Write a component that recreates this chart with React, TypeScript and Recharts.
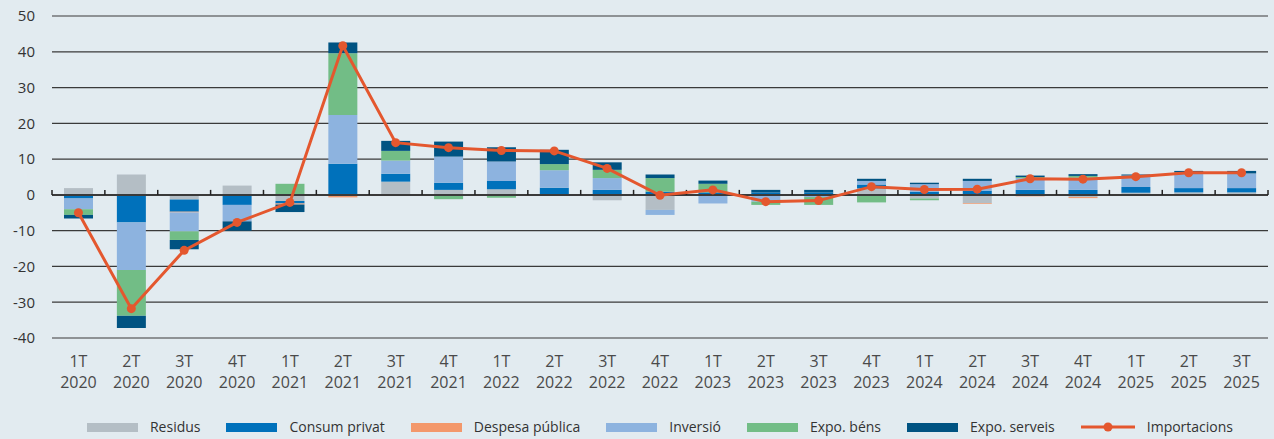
import React from 'react';
import { ComposedChart, Bar, Line, XAxis, YAxis, CartesianGrid, ReferenceLine, Legend } from 'recharts';

const categories = [
  '1T 2020', '2T 2020', '3T 2020', '4T 2020',
  '1T 2021', '2T 2021', '3T 2021', '4T 2021',
  '1T 2022', '2T 2022', '3T 2022', '4T 2022',
  '1T 2023', '2T 2023', '3T 2023', '4T 2023',
  '1T 2024', '2T 2024', '3T 2024', '4T 2024',
  '1T 2025', '2T 2025', '3T 2025',
];

const residus = [1.9, 5.7, -1.3, 2.6, -1.7, 0, 3.7, 1.4, 1.6, 0, -1.5, -4.2, 0, 0, 0, 1.8, -1.0, -2.3, 0, -0.6, 0.6, 0.7, 0.7];
const consumPrivat = [-1.0, -7.7, -3.4, -2.8, -0.7, 8.7, 2.2, 2.0, 2.3, 2.0, 1.4, 0.9, 0.7, 0.7, 0.7, 1.1, 0.9, 1.2, 1.4, 1.4, 1.6, 1.2, 1.2];
const despesaPublica = [0, 0, -0.2, 0, -0.3, -0.7, 0, 0, 0, 0, 0, 0, 0, 0, 0, 0, 0, -0.2, -0.4, -0.3, 0, 0, 0];
const inversio = [-3.0, -13.3, -5.3, -4.6, 0, 13.6, 3.7, 7.3, 5.4, 4.9, 3.3, -1.4, -2.4, -1.9, -0.6, 1.0, 2.1, 2.7, 3.3, 3.4, 3.2, 4.0, 4.1];
const expoBens = [-1.6, -12.8, -2.4, 0, 3.1, 17.3, 2.7, -1.2, -0.8, 1.7, 2.3, 3.8, 2.4, -0.9, -2.2, -2.1, -0.5, 0, 0.3, 0.5, 0, 0.4, 0];
const expoServeis = [-1.0, -3.4, -2.6, -2.6, -2.1, 3.0, 2.8, 4.2, 4.0, 4.0, 2.1, 1.0, 0.9, 0.7, 0.7, 0.6, 0.4, 0.6, 0.4, 0.5, 0.3, 0.4, 0.7];
const importacions = [-5.0, -31.8, -15.5, -7.7, -2.1, 41.7, 14.6, 13.2, 12.4, 12.3, 7.4, -0.1, 1.4, -1.9, -1.6, 2.3, 1.5, 1.6, 4.5, 4.4, 5.1, 6.2, 6.2];

const yTicks = [-40, -30, -20, -10, 0, 10, 20, 30, 40, 50];

const barSeries = [
  { key: 'residus', name: 'Residus', color: '#b4bec5', values: residus },
  { key: 'consum', name: 'Consum privat', color: '#0071bb', values: consumPrivat },
  { key: 'despesa', name: 'Despesa pública', color: '#f3986b', values: despesaPublica },
  { key: 'inversio', name: 'Inversió', color: '#8db3df', values: inversio },
  { key: 'bens', name: 'Expo. béns', color: '#72bd86', values: expoBens },
  { key: 'serveis', name: 'Expo. serveis', color: '#005382', values: expoServeis },
];
const lineName = 'Importacions';
const lineColor = '#e4572e';

const data = categories.map((cat, i) => {
  const row: Record<string, number | string> = { cat, importacions: importacions[i] };
  barSeries.forEach((s) => {
    row[s.key] = s.values[i];
  });
  return row;
});

const FONT = '"Open Sans", "Liberation Sans", sans-serif';

const XTick = (props: any) => {
  const { x, y, payload } = props;
  const [q, yr] = String(payload.value).split(' ');
  return (
    <text x={x} y={y} textAnchor="middle" fill="#4a4a4a" fontSize={16} fontFamily={FONT}>
      <tspan x={x} y={y + 28.5}>{q}</tspan>
      <tspan x={x} y={y + 49.5}>{yr}</tspan>
    </text>
  );
};

const LegendContent = () => {
  const items = [
    ...barSeries.map((s) => ({ name: s.name, color: s.color, type: 'rect' })),
    { name: lineName, color: lineColor, type: 'line' },
  ];
  return (
    <div
      style={{
        display: 'flex',
        justifyContent: 'center',
        alignItems: 'center',
        paddingLeft: 52,
        paddingRight: 6,
        height: 24,
        fontFamily: FONT,
        fontSize: 14,
        color: '#333',
        whiteSpace: 'nowrap',
      }}
    >
      {items.map((it, i) => (
        <div
          key={it.name}
          style={{ display: 'flex', alignItems: 'center', marginRight: i < items.length - 1 ? 26 : 0 }}
        >
          {it.type === 'rect' ? (
            <div style={{ width: 51, height: 9, background: it.color }} />
          ) : (
            <svg width={54} height={12} style={{ display: 'block' }}>
              <line x1={0} y1={6} x2={54} y2={6} stroke={it.color} strokeWidth={3} />
              <circle cx={27} cy={6} r={4.5} fill={it.color} />
            </svg>
          )}
          <span style={{ marginLeft: 12, lineHeight: '24px' }}>{it.name}</span>
        </div>
      ))}
    </div>
  );
};

export default function App() {
  return (
    <div style={{ position: 'absolute', left: 0, top: 0, width: 1274, height: 439, background: '#e2ebf0' }}>
      <ComposedChart
        width={1274}
        height={439}
        data={data}
        stackOffset="sign"
        margin={{ top: 16, right: 6, bottom: 0, left: 0 }}
        barSize={29}
      >
        <CartesianGrid vertical={false} stroke="#3a3a3a" strokeWidth={1.2} />
        <XAxis
          dataKey="cat"
          axisLine={false}
          tickLine={false}
          tickSize={0}
          tickMargin={0}
          height={101}
          interval={0}
          tick={<XTick />}
        />
        <YAxis
          domain={[-40, 50]}
          ticks={yTicks}
          axisLine={false}
          tickLine={false}
          tickSize={0}
          tickMargin={17}
          width={52}
          tick={{ fill: '#333', fontSize: 15, fontFamily: FONT }}
        />
        {barSeries.map((s) => (
          <Bar key={s.key} dataKey={s.key} name={s.name} stackId="a" fill={s.color} isAnimationActive={false} />
        ))}
        <ReferenceLine y={0} stroke="#3a3a3a" strokeWidth={2} />
        {categories.map((c) => (
          <ReferenceLine
            key={'t' + c}
            segment={[{ x: c, y: 0 }, { x: c, y: 1.4 }]}
            position="start"
            stroke="#222"
            strokeWidth={1.5}
          />
        ))}
        <ReferenceLine
          segment={[
            { x: categories[categories.length - 1], y: 0 },
            { x: categories[categories.length - 1], y: 1.4 },
          ]}
          position="end"
          stroke="#222"
          strokeWidth={1.5}
        />
        <Line
          type="linear"
          dataKey="importacions"
          name={lineName}
          stroke={lineColor}
          strokeWidth={3}
          dot={{ r: 4.5, fill: lineColor, stroke: lineColor, strokeWidth: 0 }}
          activeDot={false}
          isAnimationActive={false}
        />
        <Legend
          verticalAlign="middle"
          align="center"
          layout="horizontal"
          content={<LegendContent />}
          wrapperStyle={{ top: 415, left: 0, width: 1274, height: 24 }}
        />
      </ComposedChart>
    </div>
  );
}
